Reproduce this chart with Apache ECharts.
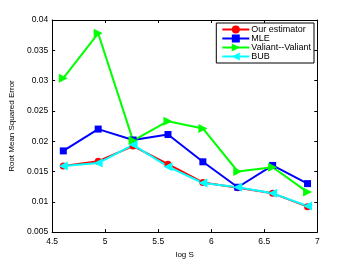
<!DOCTYPE html>
<html><head><meta charset="utf-8">
<script src="https://cdn.jsdelivr.net/npm/echarts@6/dist/echarts.min.js"></script>
<style>html,body{margin:0;padding:0;background:#fff}#c{width:350px;height:264px}</style>
</head><body><div id="c"></div>
<script>
var logS = [4.605, 4.934, 5.263, 5.592, 5.921, 6.250, 6.579, 6.908];
var ourEstimator = [0.0159, 0.0167, 0.0192, 0.0162, 0.0132, 0.0123, 0.0114, 0.0092];
var mle = [0.0184, 0.0220, 0.0202, 0.0211, 0.0166, 0.0124, 0.0160, 0.0130];
var valiant = [0.0304, 0.0378, 0.0201, 0.0233, 0.0221, 0.0150, 0.0157, 0.0116];
var bub = [0.0159, 0.0164, 0.0194, 0.0158, 0.0131, 0.0124, 0.0114, 0.0093];
var seriesNames = ['Our estimator', 'MLE', 'Valiant--Valiant', 'BUB'];
var xTicks = [4.5, 5, 5.5, 6, 6.5, 7];

function pairs(ys){ return logS.map(function(x,i){ return [x, ys[i]]; }); }
var font = 'Liberation Sans, Arial, sans-serif';
var chart = echarts.init(document.getElementById('c'));
function mk(name, data, color, symbol, rot, size){
  return {name:name, type:'line', data:pairs(data), symbol:symbol, symbolRotate:rot, symbolSize:size,
    lineStyle:{color:color, width:2}, itemStyle:{color:color}, color:color, animation:false, z: 2};
}
chart.setOption({
  animation:false,
  grid:{left:45.5, right:32.7, top:20, bottom:30},
  legend:{
    right: 36, top: 23, orient:'vertical', itemGap:0, itemWidth:27, itemHeight:10,
    padding:[2,3,2,5], borderColor:'#000', borderWidth:1, backgroundColor:'#fff',
    textStyle:{fontFamily:font, fontSize:9, color:'#000', padding:[0,0,0,-3]},
    data: seriesNames
  },
  xAxis:[{
    type:'value', min:4.5, max:7, interval:0.5, position:'bottom',
    name:'log S', nameLocation:'middle', nameGap:17,
    nameTextStyle:{fontFamily:font, fontSize:8, color:'#000'},
    axisLine:{lineStyle:{color:'#000', width:1}},
    axisTick:{inside:true, length:3, lineStyle:{color:'#000'}},
    axisLabel:{fontFamily:font, fontSize:8.5, color:'#000', margin:5, formatter:function(v){return String(v);}},
    splitLine:{show:false}
  },{
    type:'value', min:4.5, max:7, interval:0.5, position:'top',
    axisLine:{show:true, lineStyle:{color:'#000', width:1}},
    axisTick:{inside:true, length:3, lineStyle:{color:'#000'}},
    axisLabel:{show:false}, splitLine:{show:false}
  }],
  yAxis:[{
    type:'value', min:0.005, max:0.04, interval:0.005, position:'left',
    name:'Root Mean Squared Error', nameLocation:'middle', nameGap:30, nameRotate:90,
    nameTextStyle:{fontFamily:font, fontSize:8, color:'#000'},
    axisLine:{show:true, lineStyle:{color:'#000', width:1}},
    axisTick:{show:true, inside:true, length:3, lineStyle:{color:'#000'}},
    axisLabel:{fontFamily:font, fontSize:8.5, color:'#000', margin:4, formatter:function(v){return String(parseFloat(v.toFixed(3)));}},
    splitLine:{show:false}
  },{
    type:'value', min:0.005, max:0.04, interval:0.005, position:'right',
    axisLine:{show:true, lineStyle:{color:'#000', width:1}},
    axisTick:{show:true, inside:true, length:3, lineStyle:{color:'#000'}},
    axisLabel:{show:false}, splitLine:{show:false}
  }],
  series:[
    mk(seriesNames[0], ourEstimator, '#ff0000', 'circle', 0, 7),
    mk(seriesNames[1], mle, '#0000ff', 'rect', 0, 7),
    mk(seriesNames[2], valiant, '#00ff00', 'triangle', -90, 9),
    mk(seriesNames[3], bub, '#00ffff', 'triangle', 90, 9)
  ]
});
</script></body></html>
